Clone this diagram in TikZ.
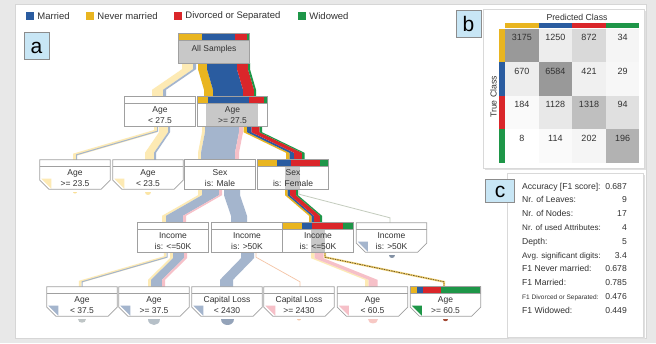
\documentclass[tikz,border=0pt]{standalone}
\usepackage{fontspec}
\setmainfont{Liberation Sans}
\usetikzlibrary{positioning,calc}
\definecolor{cmarried}{RGB}{42,92,160}
\definecolor{cnever}{RGB}{233,181,32}
\definecolor{cdivorced}{RGB}{218,38,42}
\definecolor{cwidowed}{RGB}{30,150,72}
\definecolor{cpale}{RGB}{253,234,180}
\definecolor{cbgray}{RGB}{164,181,205}
\definecolor{cpink}{RGB}{246,192,200}
\definecolor{cnode}{RGB}{200,200,200}
\definecolor{clabel}{RGB}{200,230,245}
\definecolor{cedge}{RGB}{160,160,160}
\definecolor{ctext}{RGB}{50,50,50}
\definecolor{cgline}{RGB}{196,204,190}
\definecolor{corange}{RGB}{245,196,165}
\definecolor{cdash}{RGB}{110,90,40}
\pgfdeclarelayer{bg}
\pgfdeclarelayer{boxes}
\pgfsetlayers{bg,boxes,main}

% flow band: x at parent, parent, x at child, child, width, colour
\newcommand{\flowband}[6]{%
  \path (#1,0 |- #2.south) coordinate (bs) (#3,0 |- #4.north) coordinate (bt);
  \fill[#6] (bs) -- ++(#5,0) -- ++(0,6)
    -- ([xshift=#5pt,yshift=14pt]bt) -- ([xshift=#5pt,yshift=7pt]bt)
    -- ([yshift=7pt]bt) -- ([yshift=14pt]bt) -- ($(bs)+(0,6)$) -- cycle;}
% thin flow line
\newcommand{\flowline}[5]{%
  \path (#1,0 |- #2.south) coordinate (bs) (#3,0 |- #4.north) coordinate (bt);
  \draw[#5] (bs) -- ++(0,5) -- ([yshift=12pt]bt) -- ([yshift=7pt]bt);}
% class distribution bar on top of a node
\newcommand{\classbar}[5]{%
  \fill[cnever] ($(#1.north west)+(0,-7)$) rectangle ++(#2,7);
  \fill[cmarried] ($(#1.north west)+(#2,-7)$) rectangle ++(#3,7);
  \fill[cdivorced] ($(#1.north west)+(#2+#3,-7)$) rectangle ++(#4,7);
  \fill[cwidowed] ($(#1.north west)+(#2+#3+#4,-7)$) rectangle ++(#5,7);
  \draw[boxline] ($(#1.north west)+(0,-7)$) rectangle (#1.north east);}
% leaf box with cut corners
\newcommand{\leafshape}[2]{%
  \fill[white] ($(#1.north west)+(0,-7)$) -- ($(#1.north east)+(0,-7)$) -- ($(#1.south east)+(0,-9)$)
    -- ($(#1.south east)+(-9,0)$) -- ($(#1.south west)+(9,0)$) -- ($(#1.south west)+(0,-9)$) -- cycle;
  \fill[#2] ($(#1.south west)+(1.5,-10.5)$) -- ($(#1.south west)+(11.5,-10.5)$) -- ($(#1.south west)+(11.5,-0.5)$) -- cycle;
  \draw[boxline] ($(#1.north west)+(0,-7)$) -- ($(#1.north east)+(0,-7)$) -- ($(#1.south east)+(0,-9)$)
    -- ($(#1.south east)+(-9,0)$) -- ($(#1.south west)+(9,0)$) -- ($(#1.south west)+(0,-9)$) -- cycle;
  \draw[boxline] (#1.north west) -- (#1.north east);}
\newcommand{\leafblob}[3]{%
  \fill[#3] ($(#1.south)+(-#2,2.5)$) .. controls +(0,1.33*#2) and +(0,1.33*#2) .. ($(#1.south)+(#2,2.5)$) -- cycle;}

\begin{document}
\begin{tikzpicture}[x=1pt, y=-1pt,
    tnode/.style={rectangle, minimum width=70pt, minimum height=22pt, inner sep=0pt,
      align=center, text=ctext, font=\fontsize{8.5}{10.5}\selectfont},
    boxline/.style={draw=cedge, line width=0.8pt},
    tag/.style={rectangle, draw=black!45, fill=clabel, line width=0.6pt, minimum width=25pt,
      minimum height=27pt, inner sep=0pt, text height=15pt, text depth=0pt, font=\fontsize{21}{21}\selectfont},
    legsq/.style={rectangle, minimum size=8pt, inner sep=0pt},
    legtext/.style={inner sep=1pt, text=ctext, font=\fontsize{9.5}{11}\selectfont},
    mnum/.style={inner sep=0pt, text=ctext, font=\fontsize{9}{10}\selectfont},
    stat/.style={inner sep=0pt, text=ctext, font=\fontsize{8.6}{10}\selectfont}
  ]
  \useasboundingbox (0,0) rectangle (656,343);

  % legend
  \node[legsq, fill=cmarried] (sq1) at (30,16) {};
  \node[legtext, right=2pt of sq1] (lg1) {Married};
  \node[legsq, fill=cnever] (sq2) at (90,16) {};
  \node[legtext, right=2pt of sq2] (lg2) {Never married};
  \node[legsq, fill=cdivorced] (sq3) at (178,16) {};
  \node[legtext, right=2pt of sq3] (lg3) {Divorced or Separated};
  \node[legsq, fill=cwidowed] (sq4) at (302,16) {};
  \node[legtext, right=2pt of sq4] (lg4) {Widowed};

  \node[tag] (taga) at (36.5,45.5) {a};
  \node[tag] (tagb) at (468.5,23.5) {b};
  \node[tag, minimum width=29pt, minimum height=23pt, text height=13pt] (tagc) at (500,191) {c};

  % tree
  \node[tnode, text depth=7pt] (root) at (214,52) {All Samples};
  \node[tnode] (n1)  at (160,115)   {Age\\< 27.5};
  \node[tnode] (n2)  at (232.5,115) {Age\\>= 27.5};
  \node[tnode] (n3)  at (75,178)    {Age\\>= 23.5};
  \node[tnode] (n4)  at (148,178)   {Age\\< 23.5};
  \node[tnode] (n5)  at (220,178)   {Sex\\is: Male};
  \node[tnode] (n6)  at (293,178)   {Sex\\is: Female};
  \node[tnode] (n7)  at (173,241)   {Income\\is: <=50K};
  \node[tnode] (n8)  at (247,241)   {Income\\is: >50K};
  \node[tnode] (n9)  at (318,241)   {Income\\is: <=50K};
  \node[tnode] (n10) at (391.5,241) {Income\\is: >50K};
  \node[tnode] (n11) at (82,305)    {Age\\< 37.5};
  \node[tnode] (n12) at (154,305)   {Age\\>= 37.5};
  \node[tnode] (n13) at (227,305)   {Capital Loss\\< 2430};
  \node[tnode] (n14) at (299,305)   {Capital Loss\\>= 2430};
  \node[tnode] (n15) at (372.5,305) {Age\\< 60.5};
  \node[tnode] (n16) at (445.5,305) {Age\\>= 60.5};

  % confusion matrix
  \node[stat, font=\fontsize{8.7}{10}\selectfont] (pred) at (577,17) {Predicted Class};
  \node[stat, font=\fontsize{8.7}{10}\selectfont, rotate=90] (true) at (493.5,97) {True Class};
  \foreach \col [count=\i from 0] in {cnever,cmarried,cdivorced,cwidowed}{
    \fill[\col] (505+33.6*\i,23) rectangle ++(33.6,5);
    \fill[\col] (499,28.5+33.6*\i) rectangle ++(5.5,33.6);
  }
  \foreach \row [count=\r from 0] in {{3175/40,1250/7,872/15,34/4},{670/7,6584/40,421/6,29/3},
      {184/2,1128/9,1318/25,94/12},{8/0,114/2,202/4,196/30}}{
    \foreach \v/\s [count=\c from 0] in \row {
      \fill[black!\s] (505+33.6*\c,28.5+33.6*\r) rectangle ++(33.6,33.6);
      \node[mnum] (m\r\c) at (521.8+33.6*\c,37.5+33.6*\r) {\v};
    }
  }

  % statistics
  \foreach \t/\v/\f [count=\i from 0] in {{Accuracy [F1 score]:}/0.687/8.6, {Nr. of Leaves:}/9/8.6,
      {Nr. of Nodes:}/17/8.6, {Nr. of used Attributes:}/4/8.1, {Depth:}/5/8.6,
      {Avg. significant digits:}/3.4/8.1, {F1 Never married:}/0.678/8.6, {F1 Married:}/0.785/8.6,
      {F1 Divorced or Separated:}/0.476/6.5, {F1 Widowed:}/0.449/8.6}{
    \node[stat, anchor=base west, font=\fontsize{\f}{10}\selectfont] (st\i) at (522,189+13.8*\i) {\t};
    \node[stat, anchor=base east] (sv\i) at (627,189+13.8*\i) {\v};
  }

  \begin{pgfonlayer}{bg}
    \fill[black!9] (0,0) rectangle (656,343);
    \fill[black!16] (15,4) rectangle (647,339);
    \fill[white] (16,5) rectangle (646,338);
    \fill[black!12] (485,11) rectangle (646,170);
    \filldraw[fill=white, draw=black!15] (483,9) rectangle (644,168);
    \fill[black!12] (509,175) rectangle (645,339);
    \filldraw[fill=white, draw=black!15] (507,173) rectangle (643,337);

    % flows
    \flowband{182}{root}{152}{n1}{11}{cpale}
    \flowband{193}{root}{163}{n1}{3}{cbgray}
    \flowband{198}{root}{204}{n2}{9}{cnever}
    \flowband{207}{root}{213}{n2}{30}{cmarried}
    \flowband{237}{root}{243}{n2}{11}{cdivorced}
    \flowband{248}{root}{254}{n2}{2}{cwidowed}

    \flowline{155.5}{n1}{74.5}{n3}{cpale, line width=3pt}
    \flowline{157.5}{n1}{76.5}{n3}{cbgray, line width=1pt}
    \flowband{159}{n1}{145}{n4}{9}{cpale}
    \flowband{168}{n1}{154}{n4}{2}{cbgray}

    \flowband{202}{n2}{198}{n5}{3}{cpale}
    \flowband{205}{n2}{201}{n5}{34}{cbgray}
    \flowband{239}{n2}{235}{n5}{4}{cpink}
    \flowband{243.5}{n2}{286}{n6}{3.5}{cnever}
    \flowband{247}{n2}{289.5}{n6}{4.5}{cmarried}
    \flowband{251.5}{n2}{294}{n6}{8}{cdivorced}
    \flowband{259.5}{n2}{302}{n6}{2.5}{cwidowed}

    \flowband{198}{n5}{162}{n7}{4}{cpale}
    \flowband{202}{n5}{166}{n7}{17}{cbgray}
    \flowband{219}{n5}{183}{n7}{3}{cpink}
    \flowband{224}{n5}{231}{n8}{16}{cbgray}

    \flowband{285}{n6}{309}{n9}{2.5}{cnever}
    \flowband{287.5}{n6}{311.5}{n9}{2.5}{cmarried}
    \flowband{290}{n6}{314}{n9}{6}{cdivorced}
    \flowband{296}{n6}{320}{n9}{2}{cwidowed}
    \flowline{299}{n6}{390}{n10}{cgline, line width=0.8pt}

    \flowline{165}{n7}{80}{n11}{cpale, line width=2.5pt}
    \flowline{167}{n7}{82}{n11}{cbgray, line width=1pt}
    \flowband{170}{n7}{148}{n12}{3}{cpale}
    \flowband{173}{n7}{151}{n12}{11}{cbgray}
    \flowband{184}{n7}{162}{n12}{3}{cpink}

    \flowband{241}{n8}{220}{n13}{13}{cbgray}
    \flowline{256}{n8}{300}{n14}{corange, line width=0.7pt}

    \flowband{311}{n9}{365}{n15}{3.5}{cpale}
    \flowband{314.5}{n9}{368.5}{n15}{9}{cpink}
    \flowline{325}{n9}{444}{n16}{cpale!60!cnever, line width=2pt}
    \flowline{325}{n9}{444}{n16}{cdash, line width=0.8pt, dash pattern=on 1.5pt off 1pt}
  \end{pgfonlayer}

  \begin{pgfonlayer}{boxes}
    \foreach \n in {n1,n5,n7,n8}{
      \filldraw[boxline, fill=white] ($(\n.north west)+(0,-7)$) rectangle (\n.south east);
      \draw[boxline] (\n.north west) -- (\n.north east);
    }
    \foreach \n/\c in {n3/cpale,n4/cpale,n10/cbgray,n11/cbgray,n12/cbgray,n13/cbgray,n14/cpink,n15/cpink,n16/cwidowed}{
      \leafshape{\n}{\c}
    }
    % highlighted path
    \filldraw[boxline, fill=cnode] (root.north west) rectangle (root.south east);
    \classbar{root}{23}{33}{11.8}{2.2}
    \fill[white] (n2.north west) rectangle (n2.south east);
    \fill[cnode] (206,0 |- n2.north) rectangle (258,0 |- n2.south);
    \draw[boxline] (n2.north west) rectangle (n2.south east);
    \classbar{n2}{11}{40.5}{15.5}{3}
    \fill[white] (n6.north west) rectangle (n6.south east);
    \fill[cnode] (285,0 |- n6.north) rectangle (300,0 |- n6.south);
    \draw[boxline] (n6.north west) rectangle (n6.south east);
    \classbar{n6}{19}{14}{29}{8}
    \fill[white] (n9.north west) rectangle (n9.south east);
    \fill[cnode] (311,0 |- n9.north) rectangle (325,0 |- n9.south);
    \draw[boxline] (n9.north west) rectangle (n9.south east);
    \classbar{n9}{19}{10.5}{31}{9.5}
    \classbar{n16}{6.5}{6}{18.5}{39}

    \leafblob{n3}{2}{cpale!80!cnever}
    \leafblob{n4}{3}{cpale!90!cnever}
    \leafblob{n10}{3}{cbgray!80!black}
    \leafblob{n11}{4}{cbgray!70!cpale}
    \leafblob{n12}{6}{cbgray!80!cpale}
    \leafblob{n13}{6.5}{cbgray!90!black}
    \leafblob{n14}{2}{corange}
    \leafblob{n15}{5}{cpink!80!cpale}
    \leafblob{n16}{2.5}{cdivorced!70!cwidowed}
  \end{pgfonlayer}
\end{tikzpicture}
\end{document}
